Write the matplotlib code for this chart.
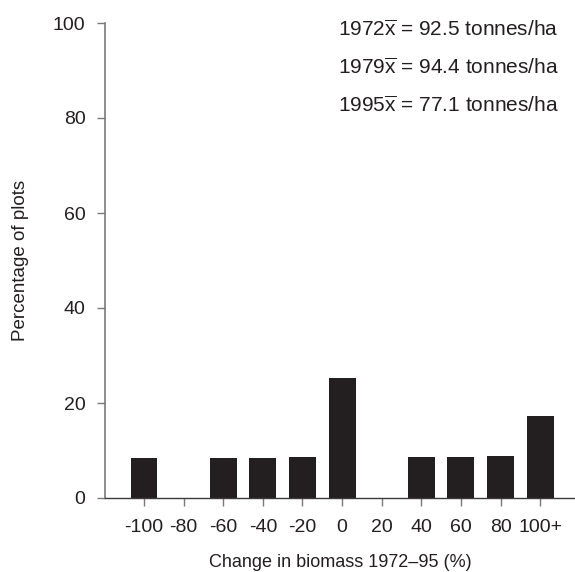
import matplotlib
matplotlib.use("Agg")
import matplotlib.pyplot as plt
import numpy as np

plt.rcParams['font.family'] = ['Liberation Sans', 'DejaVu Sans']
plt.rcParams['mathtext.fontset'] = 'custom'
plt.rcParams['mathtext.rm'] = 'Liberation Sans'
plt.rcParams['mathtext.it'] = 'Liberation Sans'

categories = ["-100", "-80", "-60", "-40", "-20", "0", "20", "40", "60", "80", "100+"]
percent_plots = [8.4, 0, 8.4, 8.4, 8.6, 25.3, 0, 8.6, 8.6, 8.8, 17.3]
y_ticks = [0, 20, 40, 60, 80, 100]
years = ["1972", "1979", "1995"]
means = ["92.5", "94.4", "77.1"]

fig = plt.figure(figsize=(5.75, 5.72), dpi=100)
ax = fig.add_axes([105/575, 1 - 498/572, 1 - 105/575, (498 - 23)/572])

x = np.arange(len(categories))
ax.bar(x, percent_plots, width=0.68, color="#231f20", zorder=2)

ax.set_xlim(-0.985, 10.88)
ax.set_ylim(0, 100)
ax.set_xticks(x)
ax.set_xticklabels(categories)
ax.set_yticks(y_ticks)

spine_col = "#7a7a7a"
for s in ["top", "right"]:
    ax.spines[s].set_visible(False)
ax.spines["left"].set_color(spine_col)
ax.spines["bottom"].set_color("#3a3a3a")
ax.spines["left"].set_linewidth(1.2)
ax.spines["bottom"].set_linewidth(1.0)
ax.tick_params(axis="y", length=6, width=1, color=spine_col, labelsize=14, pad=8, labelcolor="#231f20")
ax.tick_params(axis="x", length=6, width=1, color=spine_col, labelsize=14, pad=9, labelcolor="#231f20")

ax.set_xlabel("Change in biomass 1972\u201395 (%)", fontsize=13, labelpad=13, color="#231f20")
ax.set_ylabel("Percentage of plots", fontsize=13.5, labelpad=17, color="#231f20")

for i, (yr, m) in enumerate(zip(years, means)):
    t = yr + r"$\overline{\mathrm{x}}$" + " = " + m + " tonnes/ha"
    fig.text(338/575, 1 - (30 + 38*i)/572, t, fontsize=15, ha="left", va="center", color="#231f20")

fig.savefig("out.png", dpi=100)
